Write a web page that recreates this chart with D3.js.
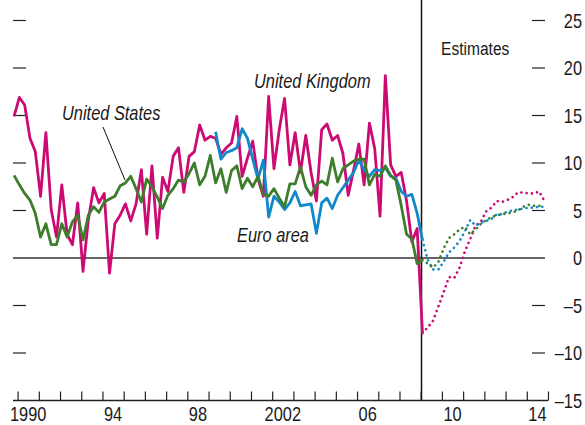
<!DOCTYPE html>
<html><head><meta charset="utf-8">
<script src="https://cdn.jsdelivr.net/npm/d3@7/dist/d3.min.js"></script>
<style>body{margin:0;background:#fff}svg{display:block}</style>
</head><body><svg id="c" width="585" height="425"></svg>
<script>
// ---- data (quarterly, % change) ----
const ukStart = "1989Q4";
const usStart = "1989Q4";
const euroStart = "1999Q2";
const projStart = "2009Q1";
const ukActual = [14.9,16.9,16.1,12.6,11.2,6.5,13.2,5.1,2.2,7.7,2.5,1.4,5.8,-1.4,4.0,7.4,5.8,6.8,-1.6,3.6,4.5,5.7,3.9,5.7,9.3,2.5,9.7,2.1,8.5,7.0,10.7,11.6,6.9,10.7,11.2,14.0,12.4,12.8,12.6,10.9,11.6,12.1,14.9,8.6,10.5,12.3,8.3,6.5,17.0,9.4,13.5,16.8,9.8,13.2,9.0,12.9,9.0,6.0,13.5,14.1,12.4,12.9,11.0,6.6,9.2,12.0,7.7,14.2,11.5,4.4,19.2,9.8,8.6,9.0,6.0,1.7,3.1,-7.9];
const usActual = [8.7,7.7,6.8,6.1,4.7,2.2,3.6,1.4,1.4,3.6,2.2,3.8,4.5,1.9,4.5,5.4,4.8,5.9,6.2,6.5,7.6,7.9,8.6,7.3,5.9,8.3,7.5,6.4,5.2,6.6,7.3,8.2,8.0,8.9,10.0,7.7,8.6,10.8,7.9,9.4,6.9,9.2,9.7,7.3,8.4,7.5,8.6,6.7,6.5,7.3,6.3,5.4,7.8,7.8,9.6,7.5,6.6,7.7,8.1,7.7,10.5,8.0,9.4,9.8,10.2,10.4,10.4,7.7,8.8,8.6,9.7,8.7,8.2,5.5,2.5,2.0,-0.6,-0.2];
const euroActual = [13.3,10.4,11.1,11.3,11.6,13.6,12.6,10.4,8.3,10.3,4.3,6.5,5.9,5.1,5.8,7.0,5.5,5.6,5.7,2.6,5.8,6.3,5.2,6.6,7.4,8.2,9.0,10.3,9.3,8.6,9.3,9.2,9.5,8.6,8.4,7.0,6.5,6.7,4.7,1.9];
const ukProj = [-7.9,-7.3,-6.6,-5.1,-3.6,-2.0,-2.1,-1.0,0.7,2.0,3.4,3.8,4.9,5.3,6.0,5.9,6.1,6.4,6.9,6.9,6.8,6.8,7.0,6.0];
const usProj = [-0.2,-0.6,-1.0,-0.4,1.0,2.1,2.5,3.0,3.3,2.5,3.0,3.6,4.0,4.3,4.5,4.6,4.7,4.8,5.0,5.4,5.6,5.5,5.5,5.5];
const euroProj = [1.9,-0.2,-1.2,-1.2,-0.4,0.6,1.1,1.8,2.8,4.0,3.4,3.7,3.9,4.1,4.6,4.6,4.9,5.0,5.1,5.2,5.3,5.3,5.4,5.4];
const yTicks = [-15,-10,-5,0,5,10,15,20,25];
const yTickLabels = ["–15","–10","–5","0","5","10","15","20","25"];
const xLabelYears = [1990,1994,1998,2002,2006,2010,2014];
const xTickLabels = ["1990","94","98","2002","06","10","14"];
const estimateYear = 2009;
const seriesNames = ["United Kingdom","United States","Euro area"];

// ---- drawing ----
const colors = {uk:"#cc0a74", us:"#3d7d2c", euro:"#1089cc"};
const FONT = "'Liberation Sans',Arial,sans-serif";
const SQ = 0.82; // condensed look
const svg = d3.select("#c");
const x = d3.scaleLinear().domain([1990, 2015]).range([17.6, 548]);
const y = d3.scaleLinear().domain([-15, 25]).range([400.5, 20.5]);

function label(px, py, str, opts={}) {
  return svg.append("text")
    .attr("transform", `translate(${px},${py}) scale(${SQ},1)`)
    .attr("text-anchor", opts.anchor || "start")
    .attr("dy", opts.dy || null)
    .attr("font-family", FONT)
    .attr("font-style", opts.italic ? "italic" : "normal")
    .attr("font-size", opts.size || 19.5)
    .attr("fill", "#1a1a1a")
    .text(str);
}

function qTime(lbl, i) {
  const yr = +lbl.slice(0,4), q = +lbl.slice(5);
  return yr + (q-1)/4 + 1/12 + i/4;
}
function pts(arr, start) { return arr.map((v,i)=>({t:qTime(start,i), v})); }
const line = d3.line().x(d=>x(d.t)).y(d=>y(d.v));

// zero line
svg.append("line").attr("x1",13).attr("x2",545).attr("y1",y(0)).attr("y2",y(0))
  .attr("stroke","#333").attr("stroke-width",1.4);

// left ticks (no labels) and right ticks with labels
yTicks.forEach((v,k)=>{
  if (v!==0 && v!==-15) {
    svg.append("line").attr("x1",13).attr("x2",26).attr("y1",y(v)).attr("y2",y(v)).attr("stroke","#222").attr("stroke-width",1.2);
    svg.append("line").attr("x1",532).attr("x2",545).attr("y1",y(v)).attr("y2",y(v)).attr("stroke","#222").attr("stroke-width",1.2);
  }
  label(582, y(v), yTickLabels[k], {anchor:"end", dy:"0.36em", size:20});
});

// x axis
const xAxis = d3.axisTop(x).tickValues(d3.range(1990, 2016)).tickSize(9).tickFormat("").tickSizeOuter(0);
const gx = svg.append("g").attr("transform",`translate(0,${y(-15)})`).call(xAxis);
gx.select(".domain").attr("d",`M13,0H${x(2015)}`).attr("stroke","#222").attr("stroke-width",1.4);
gx.selectAll(".tick line").attr("stroke","#222").attr("stroke-width",1.2);
xLabelYears.forEach((yr,k)=>{
  label(x(yr+0.5), 421, xTickLabels[k], {anchor:"middle", size:20});
});

// estimates divider
svg.append("line").attr("x1",x(estimateYear)+0.8).attr("x2",x(estimateYear)+0.8).attr("y1",0).attr("y2",y(-15))
  .attr("stroke","#111").attr("stroke-width",1.5);
label(441, 55, "Estimates", {size:19});

// actual series
const series = [
  {d:pts(ukActual,ukStart), c:colors.uk},
  {d:pts(euroActual,euroStart), c:colors.euro},
  {d:pts(usActual,usStart), c:colors.us}
];
series.forEach(s=>{
  svg.append("path").datum(s.d).attr("d",line).attr("fill","none").attr("stroke",s.c)
    .attr("stroke-width",2.8).attr("stroke-linejoin","round");
});
// projections (dotted)
[[ukProj,colors.uk],[euroProj,colors.euro],[usProj,colors.us]].forEach(([arr,c])=>{
  svg.append("path").datum(pts(arr,projStart)).attr("d",line).attr("fill","none").attr("stroke",c)
    .attr("stroke-width",2.6).attr("stroke-linecap","round").attr("stroke-dasharray","0.1 5.2");
});

// labels
label(254, 88, seriesNames[0], {italic:true, size:20});
label(62, 120, seriesNames[1], {italic:true, size:20});
label(237, 241.5, seriesNames[2], {italic:true, size:20});
svg.append("line").attr("x1",103).attr("y1",127).attr("x2",125).attr("y2",180).attr("stroke","#111").attr("stroke-width",1);
</script></body></html>
